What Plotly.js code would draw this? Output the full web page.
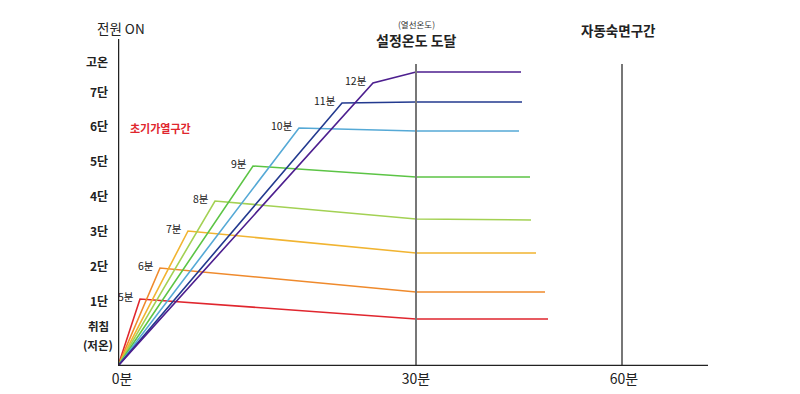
<!DOCTYPE html>
<html>
<head>
<meta charset="utf-8">
<script src="https://cdn.plot.ly/plotly-3.0.1.min.js"></script>
<style>html,body{margin:0;padding:0;background:#fff;}#chart{width:800px;height:394px;}</style>
</head>
<body>
<div id="chart"></div>
<script>
// Schematic chart units (time axis is not to scale in the original)
const seriesNames = ['5분','6분','7분','8분','9분','10분','11분','12분'];
const seriesColors = ['#e0262e','#ef8a2c','#f1b431','#a3d153','#5cc445','#55a9d6','#233a8f','#4d1f8f'];
// x positions: origin, peak/kink, 30분 mark, end of sleep segment
const xOrigin = [0,0,0,0,0,0,0,0];
const xPeak   = [22,42,70,97,135,181,224,255];
const xSet    = [298,298,298,298,298,298,298,298];
const xEnd    = [430,427,418,413,412,401,404,403];
// y values (temperature level, chart units)
const yOrigin = [0,0,0,0,0,0,0,0];
const yPeak   = [67,98,135,165,200,238,263,283];
const ySet    = [47,74,113,147,189,235,264,294];
const yEnd    = [47,74,113,146,189,235,264,294];

const yTickVals = [64,99,134,169,204,239,273,303];
const yTickText = ['1단','2단','3단','4단','5단','6단','7단','고온'];
const yLowVals = [40,21];
const yLowText = ['취침','(저온)'];
const xTickVals = [4,298,506];
const xTickText = ['0분','30분','60분'];
const markerX = [298,504];

const FONT = '"Noto Sans CJK KR", "Noto Sans", sans-serif';

const traces = seriesNames.map((n,i)=>({
  type:'scatter', mode:'lines', name:n,
  x:[xOrigin[i],xPeak[i],xSet[i],xEnd[i]],
  y:[yOrigin[i],yPeak[i],ySet[i],yEnd[i]],
  line:{color:seriesColors[i],width:1.6},
  hoverinfo:'skip', cliponaxis:false
}));

const annotations = seriesNames.map((n,i)=>({
  x:xPeak[i], y:yPeak[i], xref:'x', yref:'y', text:n, showarrow:false,
  xanchor:'right', yanchor:'middle', xshift:-4, yshift:3,
  font:{family:FONT,size:10.5,color:'#222'}
}));
yLowText.forEach((t,i)=>annotations.push({
  x:0,y:yLowVals[i],xref:'x',yref:'y',text:t,showarrow:false,xanchor:'center',yanchor:'middle',xshift:-20,
  font:{family:FONT,size:11.5,color:'#222',weight:'bold'}
}));
annotations.push(
  {x:42,y:238,xref:'x',yref:'y',text:'<b>초기가열구간</b>',showarrow:false,xanchor:'center',yanchor:'middle',font:{family:FONT,size:11,color:'#e0262e'}},
  {x:3,y:1.006,xref:'x',yref:'paper',text:'전원 ON',showarrow:false,xanchor:'center',yanchor:'middle',font:{family:FONT,size:13.5,color:'#222'}},
  {x:298,y:1.018,xref:'x',yref:'paper',text:'(열선온도)',showarrow:false,xanchor:'center',yanchor:'middle',font:{family:FONT,size:8.5,color:'#333'}},
  {x:298,y:0.97,xref:'x',yref:'paper',text:'설정온도 도달',showarrow:false,xanchor:'center',yanchor:'middle',font:{family:FONT,size:14,color:'#222',weight:600}},
  {x:500,y:1.0,xref:'x',yref:'paper',text:'자동숙면구간',showarrow:false,xanchor:'center',yanchor:'middle',font:{family:FONT,size:13.5,color:'#222',weight:600}}
);

const shapes = [];
markerX.forEach(x=>shapes.push({type:'line',xref:'x',yref:'y',x0:x,x1:x,y0:0,y1:302,line:{color:'#777',width:2}}));
shapes.push({type:'line',xref:'x',yref:'y',x0:-1,x1:590,y0:0,y1:0,line:{color:'#222',width:2.5}});
shapes.push({type:'line',xref:'x',yref:'y',x0:0,x1:0,y0:0,y1:327,line:{color:'#222',width:2.5}});

const layout = {
  width:800, height:394,
  margin:{l:118,r:92,t:30,b:28},
  paper_bgcolor:'#fff', plot_bgcolor:'#fff',
  showlegend:false,
  xaxis:{range:[0,590],showgrid:false,zeroline:false,showline:false,
    tickvals:xTickVals,ticktext:xTickText,ticks:'',ticklabelstandoff:3,
    tickfont:{family:FONT,size:14,color:'#222'},fixedrange:true},
  yaxis:{range:[0,336],showgrid:false,zeroline:false,showline:false,
    tickvals:yTickVals,ticktext:yTickText,ticks:'',ticklabelstandoff:9,
    tickfont:{family:FONT,size:12,color:'#222',weight:'bold'},fixedrange:true},
  shapes:shapes, annotations:annotations
};

Plotly.newPlot('chart',traces,layout,{displayModeBar:false,staticPlot:true});
</script>
</body>
</html>
